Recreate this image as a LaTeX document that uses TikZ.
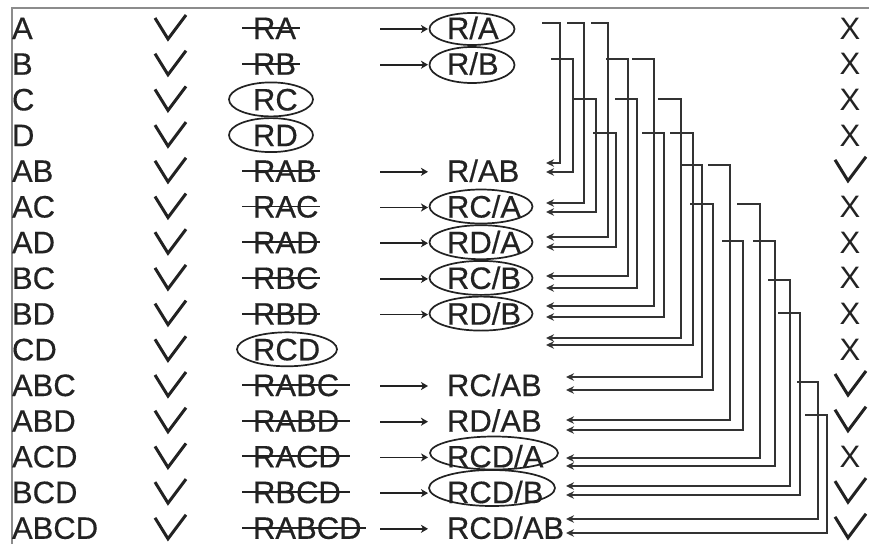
\documentclass[tikz,border=0pt]{standalone}
\usepackage{fontspec}
\setmainfont{Liberation Sans}
\usetikzlibrary{arrows.meta,shapes.geometric,calc}
\definecolor{ink}{HTML}{222222}
\definecolor{lnk}{HTML}{333333}
\definecolor{frm}{HTML}{8C8C8C}
\newcommand\diagfont{\fontsize{31}{31}\selectfont\addfontfeatures{FakeBold=0.4}}
\begin{document}
\begin{tikzpicture}[x=1pt,y=-1pt,
  txt/.style={anchor=base west,inner sep=0pt,outer sep=0pt,text=ink,font=\diagfont},
  ctxt/.style={anchor=base,inner sep=0pt,outer sep=0pt,text=ink,font=\fontsize{31}{31}\selectfont},
  ring/.style={draw=ink,line width=1.7pt,ellipse,inner sep=0pt},
  strikeline/.style={draw=ink,line width=1.9pt},
  fwd/.style={draw=ink,line width=1.6pt,-{Stealth[length=7pt,width=8pt,inset=2pt]}},
  link/.style={draw=lnk,line width=1.7pt,line join=miter,-{Stealth[length=8pt,width=7.5pt]}},
  chk/.pic={\draw[ink,line width=3pt,line join=miter] (-16,-10) -- (-3,11) -- (15,-13);},
]
\useasboundingbox (0,0) rectangle (869,544);
\fill[white] (0,0) rectangle (869,544);
% frame
\draw[frm,line width=1.6pt] (12,544) -- (12,8) -- (869,8);

% column 1 and check marks
\foreach \i/\a in {0/A,1/B,2/C,3/D,4/AB,5/AC,6/AD,7/BC,8/BD,9/CD,10/ABC,11/ABD,12/ACD,13/BCD,14/ABCD}{
  \pgfmathsetmacro\c{28+35.7*\i}
  \node[txt] (a\i) at (12,{\c+11}) {\a};
  \pic at (171,\c) {chk};
}

% column 3: struck entries
\foreach \i/\r/\e in {0/RA/300,1/RB/300,4/RAB/320,5/RAC/320,6/RAD/320,7/RBC/320,8/RBD/320,10/RABC/350,11/RABD/350,12/RACD/350,13/RBCD/350,14/RABCD/366}{
  \pgfmathsetmacro\c{28+35.7*\i}
  \node[txt] (r\i) at (253,{\c+11}) {\r};
  \draw[strikeline] (242,\c) -- (\e,\c);
}
% column 3: circled entries
\node[txt] (r2) at (253,{28+35.7*2+11}) {RC};
\node[ring,minimum width=84pt,minimum height=34pt] (e2) at (271,{28+35.7*2}) {};
\node[txt] (r3) at (253,{28+35.7*3+11}) {RD};
\node[ring,minimum width=84pt,minimum height=34pt] (e3) at (271,{28+35.7*3}) {};
\node[txt] (r9) at (253,{28+35.7*9+11}) {RCD};
\node[ring,minimum width=100pt,minimum height=34pt] (e9) at (287,{28+35.7*9}) {};

% column 4 entries
\foreach \i/\q in {0/R\slash A,1/R\slash B,4/R\slash AB,5/RC\slash A,6/RD\slash A,7/RC\slash B,8/RD\slash B,10/RC\slash AB,11/RD\slash AB,12/RCD\slash A,13/RCD\slash B,14/RCD\slash AB}{
  \pgfmathsetmacro\c{28+35.7*\i}
  \node[txt] (q\i) at (447,{\c+11}) {\q};
  \coordinate (fs\i) at (380,{\c+1});
  \coordinate (ft\i) at (428,{\c+1});
  \draw[fwd] (fs\i) -- (ft\i);
}
% column 4 ellipses
\node[ring,minimum width=85pt,minimum height=32pt] (o0) at (472,29) {};
\node[ring,minimum width=85pt,minimum height=36pt] (o1) at (472,65) {};
\foreach \i in {5,6,7,8}{
  \node[ring,minimum width=103pt,minimum height=34pt] (o\i) at (481,{28+35.7*\i}) {};
}
\node[ring,minimum width=128pt,minimum height=33pt] (o12) at (494,453) {};
\node[ring,minimum width=126pt,minimum height=36pt] (o13) at (492,488) {};

% right column
\foreach \i in {0,1,2,3,5,6,7,8,9,12}{
  \pgfmathsetmacro\c{28+35.7*\i}
  \node[ctxt] (x\i) at (850,{\c+11}) {X};
}
\foreach \i in {4,10,11,13,14}{
  \pgfmathsetmacro\c{28+35.7*\i}
  \pic at (851,{\c-1}) {chk};
}

% connectors
\foreach \n/\sx/\sy/\vx/\ty/\tx in {
  1/542/23/560/163/546, 2/567/23/584/203/546, 3/591/23/608/237/546,
  4/551/59/573/172/546, 5/606/59/628/276/546, 6/632/59/654/306/546,
  7/573/99/596/212/546, 8/615/99/637/288/546, 9/658/99/681/338/546,
  10/593/133/616/247/546, 11/642/133/664/317/546, 12/670/133/693/345/546,
  13/680/165/702/377/566, 14/708/165/730/420/566,
  15/690/204/713/390/566, 16/737/204/760/458/566,
  17/722/241/743/430/566, 18/753/241/775/466/566,
  19/768/280/790/486/566, 20/778/313/800/495/566,
  21/797/382/818/519/566, 22/805/415/827/533/566}{
  \coordinate (ls\n) at (\sx,\sy);
  \coordinate (lc\n) at (\vx,\ty);
  \coordinate (lt\n) at (\tx,\ty);
  \draw[link] (ls\n) -| (lc\n) -- (lt\n);
}
\end{tikzpicture}
\end{document}
